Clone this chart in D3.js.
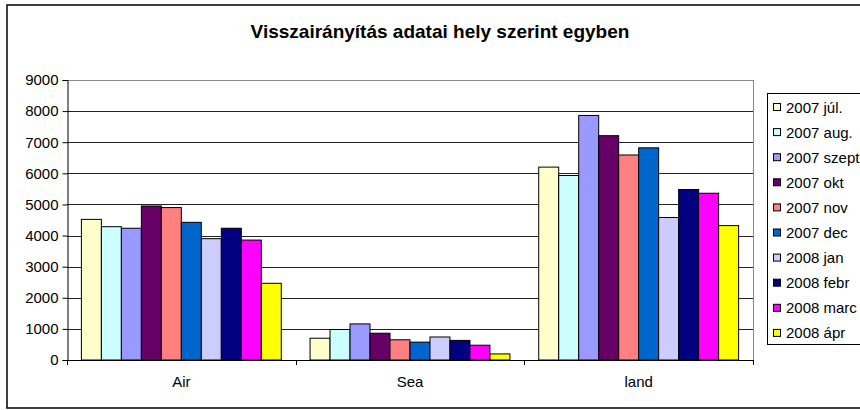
<!DOCTYPE html>
<html>
<head>
<meta charset="utf-8">
<script src="https://cdn.jsdelivr.net/npm/d3@7"></script>
<style>
  body { margin: 0; background: #fff; }
  svg { font-family: "Liberation Sans", Arial, sans-serif; display: block; }
</style>
</head>
<body>
<div id="chart"></div>
<script>
// categories along the x axis
const categories = ["Air", "Sea", "land"];
// series (months) in legend order
const seriesNames = ["2007 júl.", "2007 aug.", "2007 szept.", "2007 okt", "2007 nov",
  "2007 dec", "2008 jan", "2008 febr", "2008 marc", "2008 ápr"];
const seriesColors = ["#FFFFCC", "#CCFFFF", "#9999FF", "#660066", "#FF8080",
  "#0066CC", "#CCCCFF", "#000080", "#FF00FF", "#FFFF00"];
// values per series: [Air, Sea, land]
const valuesAir = [4520, 4285, 4235, 4950, 4900, 4425, 3900, 4235, 3855, 2465];
const valuesSea = [700, 980, 1160, 860, 650, 575, 740, 630, 475, 195];
const valuesLand = [6200, 5930, 7860, 7210, 6590, 6820, 4580, 5480, 5360, 4320];
const yTicks = [0, 1000, 2000, 3000, 4000, 5000, 6000, 7000, 8000, 9000];

const data = categories.map((c, i) => ({
  cat: c,
  vals: [valuesAir, valuesSea, valuesLand][i]
}));

let width = 860, height = 410;
let margin = { left: 67, right: 107, top: 80, bottom: 50 };

let svg = d3.select('#chart').append('svg')
  .attr('width', width)
  .attr('height', height);

// outer chart border
svg.append('rect')
  .attr('x', 7).attr('y', 5)
  .attr('width', 870).attr('height', 403)
  .attr('fill', '#fff')
  .attr('stroke', '#000')
  .attr('stroke-width', 1.5);

// title
svg.append('text')
  .attr('x', 440)
  .attr('y', 38)
  .attr('text-anchor', 'middle')
  .style('font-size', '19px')
  .style('font-weight', 'bold')
  .text('Visszairányítás adatai hely szerint egyben');

let x0 = d3.scaleBand()
  .domain(categories)
  .range([margin.left, width - margin.right])
  .paddingInner(0).paddingOuter(0);

let x1 = d3.scaleBand()
  .domain(d3.range(seriesNames.length))
  .range([0, x0.bandwidth()])
  .paddingInner(0).paddingOuter(0.72);

let y = d3.scaleLinear()
  .domain([0, 9000])
  .range([height - margin.bottom, margin.top]);

let plotR = width - margin.right;

// gridlines
svg.append('g')
  .selectAll('line')
  .data(yTicks.slice(1))
  .enter().append('line')
  .attr('x1', margin.left).attr('x2', plotR)
  .attr('y1', d => Math.round(y(d)) + 0.5).attr('y2', d => Math.round(y(d)) + 0.5)
  .attr('stroke', d => d === 9000 ? '#888' : '#222')
  .attr('stroke-width', 1);

// plot frame right side
svg.append('line')
  .attr('x1', plotR + 0.5).attr('x2', plotR + 0.5)
  .attr('y1', margin.top).attr('y2', y(0))
  .attr('stroke', '#888');

// bars
let groups = svg.append('g').selectAll('g')
  .data(data)
  .enter().append('g')
  .attr('transform', d => 'translate(' + x0(d.cat) + ',0)');

groups.selectAll('rect')
  .data(d => d.vals.map((v, i) => ({ i: i, v: v })))
  .enter().append('rect')
  .attr('x', d => x1(d.i))
  .attr('y', d => y(d.v))
  .attr('width', x1.bandwidth())
  .attr('height', d => y(0) - y(d.v))
  .attr('fill', d => seriesColors[d.i])
  .attr('stroke', '#000')
  .attr('stroke-width', 1);

// y axis
let yAxis = d3.axisLeft(y).tickValues(yTicks).tickSize(5).tickPadding(4).tickFormat(d3.format('d'));
let gy = svg.append('g')
  .attr('transform', 'translate(' + (margin.left + 0.5) + ',0)')
  .call(yAxis);
gy.selectAll('text').style('font-size', '15px').style('font-family', '"Liberation Sans", Arial, sans-serif').attr('fill', '#000');
gy.selectAll('line, path').attr('stroke', '#000');

// x axis line with ticks at category boundaries
svg.append('line')
  .attr('x1', margin.left).attr('x2', plotR)
  .attr('y1', y(0) + 0.5).attr('y2', y(0) + 0.5)
  .attr('stroke', '#000');
svg.append('g').selectAll('line')
  .data(categories.concat(['end']))
  .enter().append('line')
  .attr('x1', d => Math.round(d === 'end' ? plotR : x0(d)) + 0.5)
  .attr('x2', d => Math.round(d === 'end' ? plotR : x0(d)) + 0.5)
  .attr('y1', y(0)).attr('y2', y(0) + 5)
  .attr('stroke', '#000');

svg.append('g').selectAll('text')
  .data(categories)
  .enter().append('text')
  .attr('x', d => x0(d) + x0.bandwidth() / 2)
  .attr('y', y(0) + 27)
  .attr('text-anchor', 'middle')
  .style('font-size', '15px')
  .text(d => d);

// legend
let legend = svg.append('g');
legend.append('rect')
  .attr('x', 767.5).attr('y', 93.5)
  .attr('width', 120).attr('height', 251)
  .attr('fill', '#fff')
  .attr('stroke', '#000');

let item = legend.selectAll('g.item')
  .data(seriesNames)
  .enter().append('g')
  .attr('class', 'item')
  .attr('transform', (d, i) => 'translate(0,' + (107 + i * 25.1) + ')');

item.append('rect')
  .attr('x', 773.5).attr('y', -3.5)
  .attr('width', 7).attr('height', 7)
  .attr('fill', (d, i) => seriesColors[i])
  .attr('stroke', '#000');

item.append('text')
  .attr('x', 786)
  .attr('y', 5.5)
  .style('font-size', '15px')
  .text(d => d);
</script>
</body>
</html>
